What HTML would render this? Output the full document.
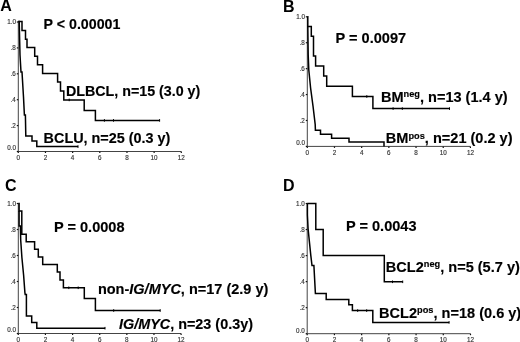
<!DOCTYPE html>
<html><head><meta charset="utf-8"><style>
html,body{margin:0;padding:0;background:#fff;width:520px;height:342px;overflow:hidden}
svg{display:block;filter:blur(0.4px)}
text{font-family:"Liberation Sans",sans-serif}
.tk{font-size:6.3px;fill:#333;stroke:#333;stroke-width:0.15px}
.lb{font-size:14.5px;font-weight:bold;fill:#000;stroke:#000;stroke-width:0.15px}
.pl{font-size:16px;font-weight:bold;fill:#000}
.sp{font-size:9.2px}
</style></head><body>
<svg width="520" height="342" viewBox="0 0 520 342">
<rect width="520" height="342" fill="#fff"/>
<line x1="18.3" y1="21.5" x2="18.3" y2="151.5" stroke="#444" stroke-width="1"/>
<line x1="18.3" y1="151.5" x2="181.3" y2="151.5" stroke="#444" stroke-width="1"/>
<line x1="16.8" y1="151.50" x2="18.3" y2="151.50" stroke="#111" stroke-width="1.2"/>
<text x="15.90" y="150.30" text-anchor="end" class="tk">0.0</text>
<line x1="16.8" y1="125.60" x2="18.3" y2="125.60" stroke="#111" stroke-width="1.2"/>
<text x="15.90" y="127.90" text-anchor="end" class="tk">.2</text>
<line x1="16.8" y1="99.70" x2="18.3" y2="99.70" stroke="#111" stroke-width="1.2"/>
<text x="15.90" y="102.00" text-anchor="end" class="tk">.4</text>
<line x1="16.8" y1="73.80" x2="18.3" y2="73.80" stroke="#111" stroke-width="1.2"/>
<text x="15.90" y="76.10" text-anchor="end" class="tk">.6</text>
<line x1="16.8" y1="47.90" x2="18.3" y2="47.90" stroke="#111" stroke-width="1.2"/>
<text x="15.90" y="50.20" text-anchor="end" class="tk">.8</text>
<line x1="16.8" y1="22.00" x2="18.3" y2="22.00" stroke="#111" stroke-width="1.2"/>
<text x="15.90" y="24.30" text-anchor="end" class="tk">1.0</text>
<line x1="18.30" y1="151.5" x2="18.30" y2="153.0" stroke="#111" stroke-width="1.2"/>
<text x="18.30" y="159.80" text-anchor="middle" class="tk">0</text>
<line x1="45.47" y1="151.5" x2="45.47" y2="153.0" stroke="#111" stroke-width="1.2"/>
<text x="45.47" y="159.80" text-anchor="middle" class="tk">2</text>
<line x1="72.63" y1="151.5" x2="72.63" y2="153.0" stroke="#111" stroke-width="1.2"/>
<text x="72.63" y="159.80" text-anchor="middle" class="tk">4</text>
<line x1="99.80" y1="151.5" x2="99.80" y2="153.0" stroke="#111" stroke-width="1.2"/>
<text x="99.80" y="159.80" text-anchor="middle" class="tk">6</text>
<line x1="126.97" y1="151.5" x2="126.97" y2="153.0" stroke="#111" stroke-width="1.2"/>
<text x="126.97" y="159.80" text-anchor="middle" class="tk">8</text>
<line x1="154.13" y1="151.5" x2="154.13" y2="153.0" stroke="#111" stroke-width="1.2"/>
<text x="154.13" y="159.80" text-anchor="middle" class="tk">10</text>
<line x1="181.30" y1="151.5" x2="181.30" y2="153.0" stroke="#111" stroke-width="1.2"/>
<text x="181.30" y="159.80" text-anchor="middle" class="tk">12</text>
<line x1="307.3" y1="16.3" x2="307.3" y2="146.4" stroke="#444" stroke-width="1"/>
<line x1="307.3" y1="146.4" x2="470.4" y2="146.4" stroke="#444" stroke-width="1"/>
<line x1="305.8" y1="146.40" x2="307.3" y2="146.40" stroke="#111" stroke-width="1.2"/>
<text x="304.90" y="145.20" text-anchor="end" class="tk">0.0</text>
<line x1="305.8" y1="120.48" x2="307.3" y2="120.48" stroke="#111" stroke-width="1.2"/>
<text x="304.90" y="122.78" text-anchor="end" class="tk">.2</text>
<line x1="305.8" y1="94.56" x2="307.3" y2="94.56" stroke="#111" stroke-width="1.2"/>
<text x="304.90" y="96.86" text-anchor="end" class="tk">.4</text>
<line x1="305.8" y1="68.64" x2="307.3" y2="68.64" stroke="#111" stroke-width="1.2"/>
<text x="304.90" y="70.94" text-anchor="end" class="tk">.6</text>
<line x1="305.8" y1="42.72" x2="307.3" y2="42.72" stroke="#111" stroke-width="1.2"/>
<text x="304.90" y="45.02" text-anchor="end" class="tk">.8</text>
<line x1="305.8" y1="16.80" x2="307.3" y2="16.80" stroke="#111" stroke-width="1.2"/>
<text x="304.90" y="19.10" text-anchor="end" class="tk">1.0</text>
<line x1="307.30" y1="146.4" x2="307.30" y2="147.9" stroke="#111" stroke-width="1.2"/>
<text x="307.30" y="154.70" text-anchor="middle" class="tk">0</text>
<line x1="334.48" y1="146.4" x2="334.48" y2="147.9" stroke="#111" stroke-width="1.2"/>
<text x="334.48" y="154.70" text-anchor="middle" class="tk">2</text>
<line x1="361.67" y1="146.4" x2="361.67" y2="147.9" stroke="#111" stroke-width="1.2"/>
<text x="361.67" y="154.70" text-anchor="middle" class="tk">4</text>
<line x1="388.85" y1="146.4" x2="388.85" y2="147.9" stroke="#111" stroke-width="1.2"/>
<text x="388.85" y="154.70" text-anchor="middle" class="tk">6</text>
<line x1="416.03" y1="146.4" x2="416.03" y2="147.9" stroke="#111" stroke-width="1.2"/>
<text x="416.03" y="154.70" text-anchor="middle" class="tk">8</text>
<line x1="443.22" y1="146.4" x2="443.22" y2="147.9" stroke="#111" stroke-width="1.2"/>
<text x="443.22" y="154.70" text-anchor="middle" class="tk">10</text>
<line x1="470.40" y1="146.4" x2="470.40" y2="147.9" stroke="#111" stroke-width="1.2"/>
<text x="470.40" y="154.70" text-anchor="middle" class="tk">12</text>
<line x1="18.3" y1="203.0" x2="18.3" y2="333.5" stroke="#444" stroke-width="1"/>
<line x1="18.3" y1="333.5" x2="181.1" y2="333.5" stroke="#444" stroke-width="1"/>
<line x1="16.8" y1="333.50" x2="18.3" y2="333.50" stroke="#111" stroke-width="1.2"/>
<text x="15.90" y="332.30" text-anchor="end" class="tk">0.0</text>
<line x1="16.8" y1="307.50" x2="18.3" y2="307.50" stroke="#111" stroke-width="1.2"/>
<text x="15.90" y="309.80" text-anchor="end" class="tk">.2</text>
<line x1="16.8" y1="281.50" x2="18.3" y2="281.50" stroke="#111" stroke-width="1.2"/>
<text x="15.90" y="283.80" text-anchor="end" class="tk">.4</text>
<line x1="16.8" y1="255.50" x2="18.3" y2="255.50" stroke="#111" stroke-width="1.2"/>
<text x="15.90" y="257.80" text-anchor="end" class="tk">.6</text>
<line x1="16.8" y1="229.50" x2="18.3" y2="229.50" stroke="#111" stroke-width="1.2"/>
<text x="15.90" y="231.80" text-anchor="end" class="tk">.8</text>
<line x1="16.8" y1="203.50" x2="18.3" y2="203.50" stroke="#111" stroke-width="1.2"/>
<text x="15.90" y="205.80" text-anchor="end" class="tk">1.0</text>
<line x1="18.30" y1="333.5" x2="18.30" y2="335.0" stroke="#111" stroke-width="1.2"/>
<text x="18.30" y="341.80" text-anchor="middle" class="tk">0</text>
<line x1="45.43" y1="333.5" x2="45.43" y2="335.0" stroke="#111" stroke-width="1.2"/>
<text x="45.43" y="341.80" text-anchor="middle" class="tk">2</text>
<line x1="72.57" y1="333.5" x2="72.57" y2="335.0" stroke="#111" stroke-width="1.2"/>
<text x="72.57" y="341.80" text-anchor="middle" class="tk">4</text>
<line x1="99.70" y1="333.5" x2="99.70" y2="335.0" stroke="#111" stroke-width="1.2"/>
<text x="99.70" y="341.80" text-anchor="middle" class="tk">6</text>
<line x1="126.83" y1="333.5" x2="126.83" y2="335.0" stroke="#111" stroke-width="1.2"/>
<text x="126.83" y="341.80" text-anchor="middle" class="tk">8</text>
<line x1="153.97" y1="333.5" x2="153.97" y2="335.0" stroke="#111" stroke-width="1.2"/>
<text x="153.97" y="341.80" text-anchor="middle" class="tk">10</text>
<line x1="181.10" y1="333.5" x2="181.10" y2="335.0" stroke="#111" stroke-width="1.2"/>
<text x="181.10" y="341.80" text-anchor="middle" class="tk">12</text>
<line x1="307.2" y1="203.0" x2="307.2" y2="333.7" stroke="#444" stroke-width="1"/>
<line x1="307.2" y1="333.7" x2="470.5" y2="333.7" stroke="#444" stroke-width="1"/>
<line x1="305.7" y1="333.70" x2="307.2" y2="333.70" stroke="#111" stroke-width="1.2"/>
<text x="304.80" y="332.50" text-anchor="end" class="tk">0.0</text>
<line x1="305.7" y1="307.66" x2="307.2" y2="307.66" stroke="#111" stroke-width="1.2"/>
<text x="304.80" y="309.96" text-anchor="end" class="tk">.2</text>
<line x1="305.7" y1="281.62" x2="307.2" y2="281.62" stroke="#111" stroke-width="1.2"/>
<text x="304.80" y="283.92" text-anchor="end" class="tk">.4</text>
<line x1="305.7" y1="255.58" x2="307.2" y2="255.58" stroke="#111" stroke-width="1.2"/>
<text x="304.80" y="257.88" text-anchor="end" class="tk">.6</text>
<line x1="305.7" y1="229.54" x2="307.2" y2="229.54" stroke="#111" stroke-width="1.2"/>
<text x="304.80" y="231.84" text-anchor="end" class="tk">.8</text>
<line x1="305.7" y1="203.50" x2="307.2" y2="203.50" stroke="#111" stroke-width="1.2"/>
<text x="304.80" y="205.80" text-anchor="end" class="tk">1.0</text>
<line x1="307.20" y1="333.7" x2="307.20" y2="335.2" stroke="#111" stroke-width="1.2"/>
<text x="307.20" y="342.00" text-anchor="middle" class="tk">0</text>
<line x1="334.42" y1="333.7" x2="334.42" y2="335.2" stroke="#111" stroke-width="1.2"/>
<text x="334.42" y="342.00" text-anchor="middle" class="tk">2</text>
<line x1="361.63" y1="333.7" x2="361.63" y2="335.2" stroke="#111" stroke-width="1.2"/>
<text x="361.63" y="342.00" text-anchor="middle" class="tk">4</text>
<line x1="388.85" y1="333.7" x2="388.85" y2="335.2" stroke="#111" stroke-width="1.2"/>
<text x="388.85" y="342.00" text-anchor="middle" class="tk">6</text>
<line x1="416.07" y1="333.7" x2="416.07" y2="335.2" stroke="#111" stroke-width="1.2"/>
<text x="416.07" y="342.00" text-anchor="middle" class="tk">8</text>
<line x1="443.28" y1="333.7" x2="443.28" y2="335.2" stroke="#111" stroke-width="1.2"/>
<text x="443.28" y="342.00" text-anchor="middle" class="tk">10</text>
<line x1="470.50" y1="333.7" x2="470.50" y2="335.2" stroke="#111" stroke-width="1.2"/>
<text x="470.50" y="342.00" text-anchor="middle" class="tk">12</text>
<path d="M18.3,21.5 H22 V30.6 H25.5 V39.3 H27 V47.5 H34.7 V56.3 H37.5 V64.8 H42.6 V73.4 H57.6 V82 H60.5 V91 H63.8 V99.9 H84.2 V110.6 H95.4 V120.4 H159.6" fill="none" stroke="#000" stroke-width="1.5" stroke-linejoin="miter"/>
<line x1="69.2" y1="98.60000000000001" x2="69.2" y2="101.2" stroke="#000" stroke-width="1"/>
<line x1="104.4" y1="119.10000000000001" x2="104.4" y2="121.7" stroke="#000" stroke-width="1"/>
<line x1="113.5" y1="119.10000000000001" x2="113.5" y2="121.7" stroke="#000" stroke-width="1"/>
<line x1="159.6" y1="119.10000000000001" x2="159.6" y2="121.7" stroke="#000" stroke-width="1"/>
<path d="M18.3,21.5 H19.2 L20,55 L21,72 H22 L23.5,97 L24.4,115 H25.4 L25.8,136 H32 V141.1 H36.8 V146.6 H78" fill="none" stroke="#000" stroke-width="1.5" stroke-linejoin="miter"/>
<line x1="78" y1="145.29999999999998" x2="78" y2="147.9" stroke="#000" stroke-width="1"/>
<path d="M307.3,16.8 H307.8 V26.4 H311.3 V36.2 H313.5 V56 H315.6 V66 H323.7 V76.1 H326.7 V86.3 H352.4 V96.5 H372.9 V108.6 H449.5" fill="none" stroke="#000" stroke-width="1.5" stroke-linejoin="miter"/>
<line x1="366.8" y1="95.2" x2="366.8" y2="97.8" stroke="#000" stroke-width="1"/>
<line x1="393.1" y1="107.3" x2="393.1" y2="109.89999999999999" stroke="#000" stroke-width="1"/>
<line x1="402.3" y1="107.3" x2="402.3" y2="109.89999999999999" stroke="#000" stroke-width="1"/>
<line x1="449.5" y1="107.3" x2="449.5" y2="109.89999999999999" stroke="#000" stroke-width="1"/>
<path d="M307.8,26 L308.2,55 L308.8,70 L310.6,88 L313,106 L315.2,124.5 L315.4,130.3 H320.5 V134.2 H331.6 V138.2 H349 V142 H384 V146.4" fill="none" stroke="#000" stroke-width="1.5" stroke-linejoin="miter"/>
<path d="M18.3,203.5 H19.1 V211 H21.8 V234.3 H26.2 V241.8 H34.6 V249.2 H38.3 V256.9 H42.7 V264.6 H57.3 V272 H60 V280 H63.4 V287.8 H84.3 V298.6 H95.4 V310.5 H160.2" fill="none" stroke="#000" stroke-width="1.5" stroke-linejoin="miter"/>
<line x1="68.8" y1="286.5" x2="68.8" y2="289.1" stroke="#000" stroke-width="1"/>
<line x1="78.2" y1="286.5" x2="78.2" y2="289.1" stroke="#000" stroke-width="1"/>
<line x1="113.7" y1="309.2" x2="113.7" y2="311.8" stroke="#000" stroke-width="1"/>
<line x1="160.2" y1="309.2" x2="160.2" y2="311.8" stroke="#000" stroke-width="1"/>
<path d="M19.1,211 V226 H20.4 L20.7,240 L21.9,257.5 L23.6,275 L24.9,292.6 L25.2,294.4 H26.4 V316 H31.7 V322.5 H36.8 V328.2 H105" fill="none" stroke="#000" stroke-width="1.5" stroke-linejoin="miter"/>
<line x1="105" y1="326.9" x2="105" y2="329.5" stroke="#000" stroke-width="1"/>
<path d="M307.2,203.6 H315.8 V229.6 H323.2 V255.5 H384.3 V281.8 H402.7" fill="none" stroke="#000" stroke-width="1.5" stroke-linejoin="miter"/>
<line x1="392.5" y1="280.5" x2="392.5" y2="283.1" stroke="#000" stroke-width="1"/>
<line x1="402.7" y1="280.5" x2="402.7" y2="283.1" stroke="#000" stroke-width="1"/>
<path d="M307.4,203.6 V215 L308.1,229 L310.8,255.4 L312,265.5 H313.9 L315.4,293.6 H326.2 V299.6 H348.8 V304.8 H352.4 V310.6 H372.8 V322.4 H449.1" fill="none" stroke="#000" stroke-width="1.5" stroke-linejoin="miter"/>
<line x1="357.7" y1="309.3" x2="357.7" y2="311.90000000000003" stroke="#000" stroke-width="1"/>
<line x1="366.7" y1="309.3" x2="366.7" y2="311.90000000000003" stroke="#000" stroke-width="1"/>
<line x1="449.1" y1="321.09999999999997" x2="449.1" y2="323.7" stroke="#000" stroke-width="1"/>
<text transform="translate(0.3,10.8) scale(1.0,1)" class="pl">A</text>
<text transform="translate(283.0,11.6) scale(1.0,1)" class="pl">B</text>
<text transform="translate(5.0,190.8) scale(1.0,1)" class="pl">C</text>
<text transform="translate(282.9,190.6) scale(1.0,1)" class="pl">D</text>
<text transform="translate(43.6,29.2) scale(0.98,1)" class="lb">P &lt; 0.00001</text>
<text transform="translate(335.6,42.6) scale(1.004,1)" class="lb">P = 0.0097</text>
<text transform="translate(54.0,231.8) scale(1.004,1)" class="lb">P = 0.0008</text>
<text transform="translate(346.0,231.2) scale(1.004,1)" class="lb">P = 0.0043</text>
<text transform="translate(65.9,96.4) scale(0.985,1)" class="lb">DLBCL, n=15 (3.0 y)</text>
<text transform="translate(43.6,142.9) scale(0.994,1)" class="lb">BCLU, n=25 (0.3 y)</text>
<text transform="translate(380.9,101.9) scale(1.004,1)" class="lb">BM<tspan class="sp" dy="-4.6">neg</tspan><tspan dy="4.6">, n=13 (1.4 y)</tspan></text>
<text transform="translate(385.8,143.2) scale(1.004,1)" class="lb">BM<tspan class="sp" dy="-4.6">pos</tspan><tspan dy="4.6">, n=21 (0.2 y)</tspan></text>
<text transform="translate(97.9,293.8) scale(1.0,1)" class="lb">non-<tspan font-style="italic">IG/MYC</tspan>, n=17 (2.9 y)</text>
<text transform="translate(119.0,328.6) scale(0.993,1)" class="lb"><tspan font-style="italic">IG/MYC</tspan>, n=23 (0.3y)</text>
<text transform="translate(385.8,271.9) scale(1.004,1)" class="lb">BCL2<tspan class="sp" dy="-4.6">neg</tspan><tspan dy="4.6">, n=5 (5.7 y)</tspan></text>
<text transform="translate(379.1,317.8) scale(1.004,1)" class="lb">BCL2<tspan class="sp" dy="-4.6">pos</tspan><tspan dy="4.6">, n=18 (0.6 y)</tspan></text>
</svg>
</body></html>
